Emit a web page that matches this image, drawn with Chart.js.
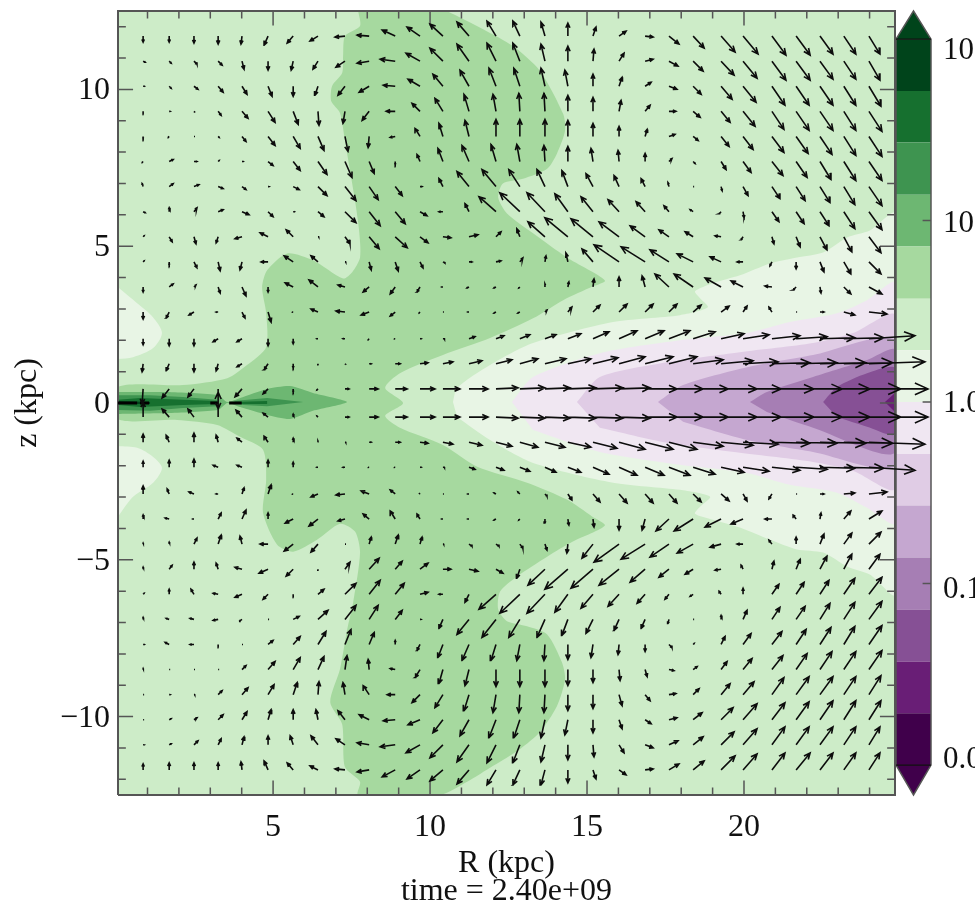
<!DOCTYPE html>
<html>
<head>
<meta charset="utf-8">
<title>R-z flow</title>
<script src="https://cdn.jsdelivr.net/npm/chart.js@4/dist/chart.umd.min.js"></script>
<style>
html,body{margin:0;padding:0;background:#fff;}
canvas{position:absolute;left:0;top:0;filter:blur(.6px);}
</style>
</head>
<body>
<canvas id="barChart" width="975" height="914"></canvas>
<canvas id="myChart" width="979" height="914"></canvas>
<script>
const rangeR = [0.06, 24.81];
const rangeZ = [-12.5, 12.5];
const rTicks = [5, 10, 15, 20];
const zTicks = [-10, -5, 0, 5, 10];
const rMinor = [1,2,3,4,6,7,8,9,11,12,13,14,16,17,18,19,21,22,23,24];
const zMinor = [-12,-11,-9,-8,-7,-6,-4,-3,-2,-1,1,2,3,4,6,7,8,9,11,12];

// arrow tails
const gridR = [0.86,1.69,2.48,3.25,4.01,4.84,5.64,6.43,7.29,8.06,8.89,9.68,10.41,11.24,12.10,12.86,13.66,14.39,15.19,16.02,16.85,17.61,18.38,19.27,19.97,20.89,21.66,22.42,23.18,23.98];
const gridZ = [11.7,10.9,10.1,9.3,8.5,7.7,6.9,6.1,5.3,4.5,3.7,2.9,2.05,1.25,0.45,-0.45,-1.25,-2.05,-2.9,-3.7,-4.5,-5.3,-6.1,-6.9,-7.7,-8.5,-9.3,-10.1,-10.9,-11.7];
const ARROW_SCALE = 1 / 31.4;

// velocity, one row per gridZ
const velR = [
[0,0,0,0,-1,-4,-6,-8,-10,-12,-13,-13,-13,-12,-9,-7,-4,0,3,7,8,10,11,14,15,14,14,13,12,11],
[2,2,3,4,2,0,-2,-5,-9,-12,-15,-14,-13,-12,-9,-7,-4,0,1,5,8,9,10,13,14,14,14,13,12,11],
[1,2,4,5,5,4,0,-3,-7,-10,-12,-12,-10,-9,-7,-6,-4,-3,0,3,6,8,8,11,13,13,13,13,12,12],
[0,1,1,3,6,7,5,1,-2,-7,-9,-8,-8,-5,-3,-1,-1,0,0,2,5,7,7,9,12,12,13,13,12,13],
[0,-1,0,1,4,7,7,6,3,-1,-5,-5,-4,-4,0,0,0,0,0,0,2,6,5,8,10,12,12,12,12,13],
[-1,4,3,1,1,5,7,9,7,5,0,-3,-5,-7,-5,-3,-1,0,-2,-1,0,3,2,5,8,11,11,11,12,13],
[-1,4,5,5,4,1,6,9,11,9,7,2,-4,-12,-14,-11,-8,-6,-7,-5,-4,-1,0,1,5,8,9,10,11,13],
[2,0,3,5,7,5,1,6,11,11,10,7,-4,-4,-17,-20,-18,-13,-12,-11,-9,-5,-3,-2,1,7,8,9,11,13],
[1,3,2,-2,-7,-8,-7,1,5,10,12,8,8,9,5,-3,-17,-23,-22,-20,-15,-10,-8,-6,-2,2,4,7,8,12],
[1,0,3,2,-2,-7,-9,-7,1,2,3,3,2,3,5,3,1,-2,-11,-25,-24,-19,-16,-11,-6,-2,0,4,7,12],
[0,4,2,2,4,0,-8,-9,-7,-6,-5,-3,-1,-2,-2,-1,0,1,1,0,-3,-14,-19,-16,-12,-7,-3,1,7,13],
[0,-3,-5,-2,3,3,-1,-7,-9,-8,-5,-1,0,-1,-2,-2,2,4,7,8,8,8,8,8,4,-3,0,4,11,18],
[0,0,0,-5,-5,0,0,-1,-2,-1,-1,1,2,6,8,10,11,13,16,18,19,21,22,23,26,28,31,35,40,46],
[-1,-3,0,-2,-5,-4,0,0,1,2,5,8,10,13,16,18,21,23,25,26,28,28,30,32,35,38,41,46,49,56],
[-1,-7,-6,0,-7,-5,0,-1,4,9,12,15,17,19,22,25,25,28,30,31,32,34,35,36,38,42,46,50,57,59],
[0,-7,-6,0,-6,-5,0,-1,4,9,12,15,17,19,22,25,25,28,30,31,32,34,35,36,38,42,46,50,57,59],
[0,-3,0,-2,-5,-4,0,0,1,2,5,8,10,13,16,18,20,23,24,26,28,28,30,32,35,38,41,46,49,56],
[0,0,0,-5,-5,0,0,-1,-2,-1,-1,1,2,6,8,10,11,13,16,18,19,21,22,23,26,28,31,35,40,46],
[0,-2,-5,-2,2,3,-1,-7,-9,-8,-5,-1,0,-1,-2,-2,2,4,7,8,8,8,8,8,4,-3,0,4,11,18],
[0,-4,-1,3,4,0,-8,-9,-7,-6,-5,-3,-1,-1,-2,-1,0,1,1,0,-3,-13,-19,-16,-12,-7,-3,1,7,13],
[0,0,3,3,-2,-8,-9,-7,0,2,3,2,1,3,3,3,2,-1,-11,-25,-24,-19,-16,-11,-6,-3,0,4,8,12],
[0,3,0,-2,-7,-9,-7,0,5,10,7,8,8,9,7,-3,-17,-23,-22,-20,-15,-10,-8,-6,-2,2,4,7,8,11],
[1,0,-3,-5,-7,-5,0,6,11,11,9,8,-4,-4,-17,-20,-18,-13,-12,-11,-8,-4,-3,-2,0,7,8,9,11,13],
[0,-3,-4,-5,-3,0,6,10,11,9,7,1,-4,-12,-14,-11,-8,-6,-7,-5,-4,-1,0,0,4,8,9,10,11,13],
[1,-4,-4,0,0,5,7,8,6,5,0,-3,-5,-7,-5,-3,-1,0,-2,-1,0,3,1,4,8,10,10,11,11,13],
[0,0,0,0,4,7,7,6,2,-1,-5,-5,-4,-4,0,0,0,0,0,1,2,5,4,6,9,11,11,12,12,13],
[0,1,1,4,6,6,4,1,-2,-6,-8,-8,-8,-5,-3,-1,-1,0,0,3,5,7,6,9,11,12,13,13,12,12],
[0,2,3,5,5,3,0,-2,-7,-10,-12,-12,-10,-9,-7,-6,-4,-3,0,3,6,8,9,12,14,13,13,13,12,12],
[1,2,4,3,2,0,-3,-7,-9,-12,-15,-14,-13,-12,-9,-7,-4,0,1,5,8,9,10,13,14,13,13,13,12,11],
[0,0,0,0,-1,-4,-6,-8,-10,-12,-13,-13,-13,-12,-9,-7,-4,0,3,7,8,10,11,14,14,13,14,13,12,11]
];
const velZ = [
[-6,-6,-7,-8,-8,-9,-7,-5,-1,1,6,9,12,14,15,15,14,13,9,5,-1,-8,-12,-16,-18,-19,-19,-18,-18,-18],
[-1,-2,-3,-4,-8,-9,-9,-8,-6,-2,2,8,13,17,18,18,17,15,12,8,2,-5,-10,-14,-17,-19,-19,-18,-18,-19],
[0,-2,-3,-6,-8,-10,-10,-9,-9,-6,1,7,12,16,18,18,18,16,12,9,4,-3,-8,-13,-16,-19,-19,-19,-19,-20],
[-1,0,-1,-4,-7,-11,-13,-14,-12,-9,0,8,13,17,17,18,18,16,14,11,6,0,-6,-11,-15,-18,-19,-19,-19,-20],
[-2,-1,0,-1,-5,-9,-12,-14,-15,-11,-1,8,13,16,17,17,17,16,13,10,7,2,-4,-10,-13,-16,-17,-18,-19,-20],
[-1,2,0,1,0,-4,-9,-13,-16,-12,-3,7,13,16,17,17,16,15,13,11,8,3,-2,-8,-11,-14,-16,-18,-19,-19],
[3,3,2,-2,-3,0,-3,-9,-14,-13,-9,0,8,15,17,17,17,16,13,11,8,4,0,-4,-9,-12,-14,-16,-18,-19],
[-1,4,4,2,-3,-5,0,-5,-11,-14,-12,-4,0,8,15,19,19,18,15,12,10,6,2,-2,-6,-10,-12,-14,-17,-18],
[1,-5,-7,-6,-2,4,7,0,-7,-12,-11,-6,-1,2,5,8,15,19,18,15,11,7,5,1,-3,-7,-10,-13,-15,-16],
[1,-3,-6,-9,-8,0,6,6,0,-8,-9,-6,-1,0,1,4,6,9,13,17,15,12,8,5,0,-4,-7,-10,-12,-12],
[-5,3,2,-6,-9,-5,4,7,2,-5,-7,-5,0,-1,-1,-1,3,5,8,10,11,13,13,9,6,1,-3,-6,-7,-7],
[-7,-6,-3,0,-6,-10,0,3,1,-3,-4,-1,0,0,-1,-1,2,5,7,8,8,8,7,6,6,5,0,0,-3,-2],
[-6,-7,-7,-3,-3,-7,-5,0,0,-1,0,0,0,2,3,4,4,5,7,8,8,8,7,5,4,3,2,1,1,3],
[-8,-7,-8,-7,-3,-6,-4,-1,-1,0,0,1,2,3,4,5,5,5,6,7,7,7,4,3,2,1,1,1,1,2],
[-15,-9,-8,-20,-8,-5,-3,-1,0,0,0,0,0,0,1,1,1,1,1,1,0,0,0,0,0,0,0,0,0,0],
[15,8,8,25,7,4,3,1,0,0,0,0,0,0,-1,-1,-1,-1,-1,-1,0,0,0,0,0,0,0,0,0,0],
[8,7,9,7,4,6,4,1,0,0,0,-1,-2,-3,-4,-5,-5,-5,-6,-7,-7,-7,-4,-3,-2,-1,-1,-1,-1,-2],
[6,7,8,2,2,7,5,0,0,0,0,0,0,-2,-3,-4,-5,-5,-7,-8,-8,-8,-7,-5,-4,-3,-2,-1,-1,-3],
[8,5,2,0,6,9,0,-3,-1,3,4,1,0,0,1,2,-2,-6,-8,-9,-9,-9,-8,-7,-7,-5,0,0,1,2],
[4,1,0,6,9,6,-4,-7,-2,5,8,5,0,0,-1,-1,-4,-6,-8,-11,-11,-12,-12,-8,-5,0,4,6,8,8],
[1,2,6,9,8,0,-7,-8,0,7,9,7,0,-2,-2,-4,-6,-9,-14,-18,-15,-13,-9,-3,0,4,7,10,11,12],
[2,4,7,6,2,-4,-7,-1,7,11,8,6,0,-2,-4,-9,-16,-20,-19,-16,-13,-8,-5,-1,4,8,10,13,15,15],
[1,5,5,1,-3,-5,-1,5,11,14,11,2,0,-8,-15,-19,-19,-18,-14,-12,-9,-5,-2,3,6,10,12,14,16,17],
[2,1,1,-1,-2,0,3,9,14,14,9,0,-9,-15,-18,-18,-18,-16,-14,-11,-9,-4,0,4,9,12,13,16,17,18],
[0,2,0,-1,0,4,8,13,15,12,4,-6,-13,-16,-16,-16,-16,-15,-13,-10,-7,-3,1,8,11,13,15,17,18,19],
[1,0,0,0,4,8,12,13,14,10,1,-8,-14,-16,-17,-17,-17,-16,-13,-11,-7,-1,3,8,11,14,16,18,18,19],
[0,0,0,4,7,10,12,13,12,9,0,-8,-13,-16,-18,-18,-18,-16,-14,-11,-6,1,6,11,13,17,18,18,18,19],
[0,1,2,5,8,10,10,10,9,5,-1,-5,-13,-16,-18,-18,-18,-15,-13,-9,-4,2,7,12,16,17,18,19,19,19],
[0,1,4,6,8,9,9,9,6,2,-2,-8,-13,-17,-18,-18,-17,-15,-12,-8,-3,4,8,13,16,18,18,18,18,18],
[6,7,7,7,8,9,7,4,1,-2,-7,-9,-11,-14,-15,-15,-15,-13,-9,-5,1,6,9,14,16,17,17,17,17,17]
];

// thick marks on the midplane
const discMarkFrom = [0.06,0.76,3.0,3.6];
const discMarkTo = [0.67,1.05,3.25,4.0];

// contour outlines, [R, z] pairs in kpc
const greenMain = [[7.71,12.5],[7.77,12.02],[7.29,11.7],[7.23,11.07],[7.2,10.52],[6.88,10.11],[6.85,9.63],[7.13,9.25],[7.29,8.36],[7.45,7.41],[7.61,6.45],[7.74,5.5],[7.77,4.64],[7.52,4.17],[7.23,3.97],[6.27,4.55],[5.45,4.77],[4.81,4.23],[4.65,3.69],[4.78,2.86],[4.78,1.78],[4.17,1.21],[3.54,0.79],[2.13,0.57],[0.06,0.51],[0.06,-0.51],[1.94,-0.54],[3.22,-0.7],[3.95,-1.08],[4.68,-1.49],[4.78,-2.45],[4.68,-3.5],[5.13,-4.52],[5.64,-4.74],[6.4,-4.36],[7.13,-3.85],[7.61,-4.1],[7.77,-4.77],[7.55,-6.36],[7.36,-7.22],[7.13,-8.49],[6.82,-9.54],[7.2,-10.24],[7.29,-11.61],[7.77,-12.08],[7.71,-12.5],[10.32,-12.5],[11.18,-12.08],[12.01,-11.57],[12.87,-11.03],[13.5,-10.49],[14.04,-9.67],[14.3,-8.81],[14.2,-8.27],[13.73,-7.38],[13.09,-7.12],[12.45,-6.96],[12.17,-6.58],[12.23,-6.01],[12.77,-5.53],[13.73,-4.9],[14.55,-4.42],[15.57,-3.91],[15.16,-3.62],[14.36,-3.08],[13.09,-2.54],[11.5,-2.03],[10.41,-1.34],[9.04,-0.79],[8.57,-0.41],[9.14,0],[8.57,0.48],[9.04,0.95],[10.41,1.53],[11.91,2.07],[13.28,2.7],[14.24,3.28],[15.19,3.72],[15.57,3.91],[14.36,4.64],[13.28,5.41],[12.45,6.04],[12.17,6.55],[12.32,7],[12.96,7.15],[13.73,7.47],[14.04,7.95],[14.3,8.68],[14.24,9.22],[13.5,10.59],[12.64,11.38],[11.69,11.92],[10.54,12.5]];
const lobeUpper = [[0.06,3.69],[0.67,3.18],[1.18,2.73],[1.46,2.23],[1.18,1.75],[0.54,1.46],[0.06,1.4]];
const lobeLower = [[0.06,-1.37],[0.67,-1.43],[1.18,-1.72],[1.46,-2.07],[1.18,-2.54],[0.54,-2.99],[0.06,-3.62]];
const paleJet = [[10.73,0.03],[10.86,0.48],[11.91,1.21],[13.28,1.91],[15.83,2.58],[17.96,2.8],[18.85,3.05],[18.6,3.34],[18.44,3.56],[19.01,3.82],[19.87,4.07],[20.83,4.45],[21.69,4.64],[22.52,4.8],[23.28,5.28],[24.01,5.5],[24.81,6.04],[24.81,-6.1],[24.01,-5.47],[23.28,-5.21],[22.52,-4.77],[21.69,-4.67],[20.83,-4.36],[19.87,-3.97],[19.01,-3.72],[18.44,-3.53],[18.6,-3.31],[18.92,-2.99],[17.96,-2.77],[15.83,-2.54],[13.28,-1.91],[11.91,-1.18],[10.86,-0.45]];
const purple1 = [[12.61,0.03],[13.28,0.83],[15.41,1.59],[17.96,2],[20.1,2.23],[21.46,2.58],[22.96,2.86],[23.92,3.28],[24.81,3.82],[24.81,-3.82],[23.92,-3.34],[22.96,-2.86],[21.46,-2.61],[20.1,-2.23],[17.96,-1.97],[15.41,-1.56],[13.28,-0.86]];
const purple2 = [[14.68,0.03],[15.41,0.83],[17.55,1.3],[19.87,1.62],[22.2,1.91],[23.47,2.23],[24.81,2.8],[24.81,-2.73],[23.47,-2.16],[22.2,-1.88],[19.87,-1.59],[17.55,-1.27],[15.41,-0.79]];
const purple3 = [[17.26,0.03],[18.06,0.57],[20.1,1.14],[22.2,1.53],[24.81,2],[24.81,-2],[22.2,-1.56],[20.1,-1.18],[18.06,-0.6]];
const purple4 = [[20.19,0.03],[20.73,0.35],[22.2,0.83],[23.92,1.37],[24.81,1.69],[24.81,-1.59],[22.2,-0.79],[20.73,-0.29]];
const purple5 = [[22.52,0.03],[22.96,0.51],[23.92,0.95],[24.81,1.11],[24.81,-0.99],[23.92,-0.76],[22.96,-0.45]];
const purple6 = [[24.49,0.03],[24.81,0.32],[24.81,-0.29]];
const discMid = [[0.06,0.35],[1.62,0.35],[3.25,0.25],[3.54,0.03],[3.95,0.16],[4.81,0.45],[5.54,0.54],[6.27,0.32],[7.36,0.03],[6.27,-0.25],[5.54,-0.51],[4.81,-0.38],[3.95,-0.13],[3.54,0],[3.25,-0.22],[1.62,-0.32],[0.06,-0.35]];
const discDeepA = [[0.06,0.25],[1.08,0.25],[2.13,0.19],[3.22,0.1],[3.22,-0.1],[2.13,-0.16],[1.08,-0.25],[0.06,-0.22]];
const discDeepB = [[3.73,0.06],[4.81,0.16],[5.96,0.03],[4.81,-0.1],[4.04,-0.06]];
const discCoreA = [[0.06,0.1],[0.76,0.16],[2.13,0.1],[3.22,0.06],[3.22,-0.03],[2.13,-0.06],[0.76,-0.13],[0.06,-0.06]];
const discCoreB = [[3.73,0.03],[4.81,0.06],[4.81,-0.03],[3.73,-0.03]];
const discDark = [[0.06,0.06],[1.08,0.03],[1.08,-0.03],[0.06,-0.03]];

// colourbar, log10 of the level
const barLevels = [2,1.714,1.43,1.143,0.857,0.57,0.286,0,-0.286,-0.57,-0.857,-1.143,-1.43,-1.714,-2];
const barColors = ["#00441b","#16702f","#3e9450","#6db772","#a6d99f","#cdecc8","#e8f5e5","#f0e7f2","#e0cce5","#c5a7d0","#a67eb4","#865095","#691e76","#40004b"];
const barRange = [-2.165, 2.155];
const barTickMarks = [1, 0, -1];
const barLabelAt = [1.945, 0.994, 0, -1.022, -1.961];
const barLabels = ["100", "10", "1.0", "0.1", "0.01"];

const serif = "'Liberation Serif','Times New Roman',serif";
const frameColor = "#555";
const inkColor = "#0c0c0c";

function polygon(outline, color, smooth) {
    return {
        data: outline.map(function(p){ return {x: p[0], y: p[1]}; }),
        showLine: true,
        fill: "shape",
        backgroundColor: color,
        borderColor: color,
        borderWidth: 0,
        pointRadius: 0,
        tension: smooth || 0
    };
}

function segments(points, color, width) {
    return {
        data: points,
        showLine: true,
        fill: false,
        spanGaps: false,
        borderColor: color,
        borderWidth: width,
        pointRadius: 0,
        tension: 0,
        clip: false
    };
}

var gap = {x: null, y: null};

function arrowPoints() {
    var pts = [];
    gridZ.forEach(function(z, row){
        gridR.forEach(function(r, col){
            var du = velR[row][col] * ARROW_SCALE;
            var dw = velZ[row][col] * ARROW_SCALE;
            var len = Math.sqrt(du * du + dw * dw);
            var tipR = r + du, tipZ = z + dw;
            var ang = Math.atan2(dw, du);
            // tiny arrows in the picture are just dots
            var head = Math.min(0.5 * len, 2.5 * ARROW_SCALE + 0.2 * len);
            if (len == 0) {
                tipR = r + ARROW_SCALE;
                head = 0;
            }
            pts.push({x: r, y: z}, {x: tipR, y: tipZ}, gap);
            if (head > 0) {
                pts.push({x: tipR - head * Math.cos(ang - 0.42), y: tipZ - head * Math.sin(ang - 0.42)});
                pts.push({x: tipR, y: tipZ});
                pts.push({x: tipR - head * Math.cos(ang + 0.42), y: tipZ - head * Math.sin(ang + 0.42)});
                pts.push(gap);
            }
        });
    });
    return pts;
}

function tickPoints(values, len, horizontal) {
    var pts = [];
    values.forEach(function(v){
        if (horizontal) {
            pts.push({x: v, y: rangeZ[0]}, {x: v, y: rangeZ[0] + len}, gap);
            pts.push({x: v, y: rangeZ[1]}, {x: v, y: rangeZ[1] - len}, gap);
        } else {
            pts.push({x: rangeR[0], y: v}, {x: rangeR[0] + len, y: v}, gap);
            pts.push({x: rangeR[1], y: v}, {x: rangeR[1] - len, y: v}, gap);
        }
    });
    return pts;
}

function discMarks() {
    var pts = [];
    discMarkFrom.forEach(function(r, i){
        pts.push({x: r, y: 0}, {x: discMarkTo[i], y: 0}, gap);
    });
    return pts;
}

var corners = [[rangeR[0],rangeZ[0]],[rangeR[0],rangeZ[1]],[rangeR[1],rangeZ[1]],[rangeR[1],rangeZ[0]]];

// bottom layer first
var layers = [
    polygon(corners, barColors[5]),
    polygon(greenMain, barColors[4], 0.25),
    polygon(lobeUpper, barColors[6], 0.3),
    polygon(lobeLower, barColors[6], 0.3),
    polygon(paleJet, barColors[6], 0.25),
    polygon(purple1, barColors[7], 0.25),
    polygon(purple2, barColors[8], 0.25),
    polygon(purple3, barColors[9], 0.25),
    polygon(purple4, barColors[10], 0.25),
    polygon(purple5, barColors[11], 0.25),
    polygon(purple6, barColors[12]),
    polygon(discMid, barColors[3], 0.2),
    polygon(discDeepA, barColors[2]),
    polygon(discDeepB, barColors[2]),
    polygon(discCoreA, barColors[1]),
    polygon(discCoreB, barColors[1]),
    polygon(discDark, barColors[0]),
    segments(corners.concat([corners[0]]).map(function(p){ return {x: p[0], y: p[1]}; }), frameColor, 2),
    segments(tickPoints(rMinor, 0.24, true), frameColor, 1.5),
    segments(tickPoints(rTicks, 0.46, true), frameColor, 1.5),
    segments(tickPoints(zMinor, 0.25, false), frameColor, 1.5),
    segments(tickPoints(zTicks, 0.48, false), frameColor, 1.5),
    segments(discMarks(), "#000", 3),
    segments(arrowPoints(), inkColor, 1.6)
];

function minusLabel(value) {
    return String(value).replace("-", "\u2212");
}

function noEdgePadding(scale) {
    scale.paddingTop = 0;
    scale.paddingBottom = 0;
    scale.paddingLeft = 0;
    scale.paddingRight = 0;
}

new Chart(document.getElementById("myChart"), {
    type: "scatter",
    data: {datasets: layers.reverse()},
    options: {
        responsive: false,
        animation: false,
        events: [],
        layout: {padding: {left: 0, right: 84, top: 11, bottom: 0}},
        plugins: {legend: {display: false}, tooltip: {enabled: false}},
        scales: {
            x: {
                type: "linear",
                min: rangeR[0],
                max: rangeR[1],
                grid: {display: false},
                border: {display: false},
                afterFit: function(scale){ scale.height = 119; noEdgePadding(scale); },
                afterBuildTicks: function(scale){
                    scale.ticks = rTicks.map(function(v){ return {value: v}; });
                },
                ticks: {
                    padding: 5,
                    maxRotation: 0,
                    autoSkip: false,
                    color: "#111",
                    font: {family: serif, size: 32},
                    callback: minusLabel
                },
                title: {
                    display: true,
                    text: ["R (kpc)", "time = 2.40e+09"],
                    color: "#111",
                    font: {family: serif, size: 32, lineHeight: 0.875},
                    padding: {top: 0, bottom: 8}
                }
            },
            y: {
                type: "linear",
                min: rangeZ[0],
                max: rangeZ[1],
                grid: {display: false},
                border: {display: false},
                afterFit: function(scale){ scale.width = 118; noEdgePadding(scale); },
                afterBuildTicks: function(scale){
                    scale.ticks = zTicks.map(function(v){ return {value: v}; });
                },
                ticks: {
                    padding: 0,
                    labelOffset: 1.5,
                    maxRotation: 0,
                    autoSkip: false,
                    color: "#111",
                    font: {family: serif, size: 32},
                    callback: minusLabel
                },
                title: {
                    display: true,
                    text: "z (kpc)",
                    color: "#111",
                    font: {family: serif, size: 32},
                    padding: {top: 8, bottom: 0}
                }
            }
        }
    }
});

// colourbar
var barSets = [];
barColors.forEach(function(color, i){
    barSets.push(polygon([[0,barLevels[i]],[1,barLevels[i]],[1,barLevels[i + 1]],[0,barLevels[i + 1]]], color));
});
barSets.push(polygon([[0,barLevels[0]],[0.5,barRange[1]],[1,barLevels[0]]], barColors[0]));
barSets.push(polygon([[0,barLevels[14]],[0.5,barRange[0]],[1,barLevels[14]]], barColors[13]));

var barOutline = [[0,barLevels[0]],[0.5,barRange[1]],[1,barLevels[0]],[1,barLevels[14]],[0.5,barRange[0]],[0,barLevels[14]],[0,barLevels[0]]];
barSets.push(segments(barOutline.map(function(p){ return {x: p[0], y: p[1]}; }), frameColor, 1.5));
barSets.push(segments([{x:0,y:barLevels[0]},{x:1,y:barLevels[0]},gap,{x:0,y:barLevels[14]},{x:1,y:barLevels[14]}], "#111", 1.2));

var barMarks = [];
barTickMarks.forEach(function(v){
    barMarks.push({x: 1, y: v}, {x: 0.76, y: v}, gap);
});
barSets.push(segments(barMarks, frameColor, 1.5));

new Chart(document.getElementById("barChart"), {
    type: "scatter",
    data: {datasets: barSets.reverse()},
    options: {
        responsive: false,
        animation: false,
        events: [],
        layout: {padding: {left: 896, right: 0, top: 11, bottom: 119}},
        plugins: {legend: {display: false}, tooltip: {enabled: false}},
        scales: {
            x: {type: "linear", min: 0, max: 1, display: false},
            y: {
                type: "linear",
                position: "right",
                min: barRange[0],
                max: barRange[1],
                grid: {display: false},
                border: {display: false},
                afterFit: function(scale){ scale.width = 44; noEdgePadding(scale); },
                afterBuildTicks: function(scale){
                    scale.ticks = barLabelAt.map(function(v){ return {value: v}; });
                },
                ticks: {
                    padding: 4,
                    labelOffset: 2,
                    autoSkip: false,
                    color: "#111",
                    font: {family: serif, size: 31},
                    callback: function(value, index){ return barLabels[index]; }
                }
            }
        }
    }
});
</script>
</body>
</html>
